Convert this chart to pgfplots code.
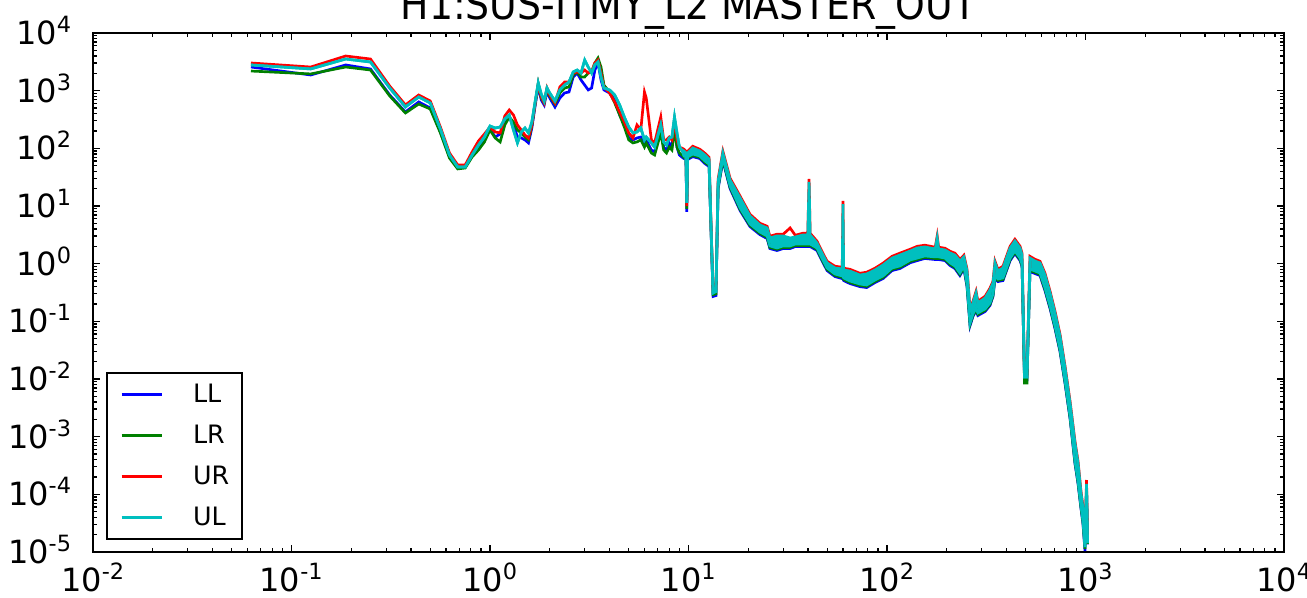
\documentclass[border=0pt]{standalone}
\usepackage{graphicx}
\usepackage{fontspec}
\setmainfont{DejaVu Sans}
\usepackage{pgfplots}
\usepackage{pgfplotstable}
\pgfplotsset{compat=1.18}
\usepgfplotslibrary{fillbetween}
\definecolor{LLc}{rgb}{0,0,1}
\definecolor{LRc}{rgb}{0,0.5,0}
\definecolor{URc}{rgb}{1,0,0}
\definecolor{ULc}{rgb}{0,0.75,0.75}

% spectra; above ~9.5 Hz the traces are noisy bands:
% UR = top edge, LL/LR = bottom edges, UL = band (ULlo..ULhi)
\pgfplotstableread{
f LL LR UR ULlo ULhi
0.0625 2570 2190 3020 2790 2790
0.125 1870 1950 2570 2380 2380
0.1875 2790 2570 3990 3540 3540
0.25 2380 2280 3540 3140 3140
0.3125 841 809 1200 1110 1110
0.375 427 410 565 521 521
0.4375 637 587 841 776 776
0.5 501 481 662 611 611
0.5625 192 185 234 216 216
0.625 70.8 67.9 83.0 76.6 76.6
0.6875 45.6 43.9 51.4 47.4 47.4
0.75 47.4 45.6 51.4 47.4 47.4
0.8125 73.6 70.8 86.5 76.6 76.6
0.875 101 93.5 134 114 114
0.9375 145 129 177 157 157
1.0 216 208 234 244 244
1.0625 157 151 192 225 225
1.125 177 129 185 234 234
1.1875 298 254 364 323 323
1.25 349 349 462 378 378
1.3125 254 286 378 208 208
1.375 157 208 254 124 124
1.4375 151 185 208 192 192
1.5 140 157 170 225 225
1.5625 124 140 151 185 185
1.625 225 244 254 286 286
1.6875 542 587 587 637 637
1.75 1200 1310 1310 1360 1360
1.8125 689 746 776 875 875
1.875 565 611 611 662 662
1.9375 986 1070 1110 1110 1110
2.0 746 809 841 912 912
2.125 521 587 611 662 662
2.25 746 912 1160 1030 1030
2.375 912 1110 1410 1250 1250
2.5 948 1160 1410 1410 1410
2.625 1730 1870 2020 2110 2110
2.75 2020 2110 2110 2280 2280
2.875 1530 1730 2020 2020 2020
3.0 1250 1730 2280 3400 3400
3.125 1030 2020 2020 2570 2570
3.25 1110 2110 2110 2020 2020
3.375 2280 3020 3020 2790 2790
3.5 3020 3680 3400 3140 3140
3.625 1530 2570 2020 1730 1730
3.75 1030 1250 1160 1110 1110
4.0 912 948 912 1030 1030
4.25 689 611 637 841 841
4.5 378 378 427 565 565
4.75 275 234 286 349 349
5.0 151 140 185 234 234
5.25 140 124 151 185 185
5.5 151 129 254 192 192
5.75 157 140 208 225 225
6.0 124 105 948 140 140
6.125 140 124 746 157 157
6.5 93.5 83.0 140 124 124
6.75 86.5 76.6 124 105 105
7.25 208 185 349 254 254
7.5 105 93.5 140 129 129
7.75 93.5 83.0 140 114 114
8.0 124 105 157 151 151
8.25 105 93.5 140 157 157
8.5 275 208 310 349 349
8.75 105 105 140 185 185
9.0 76.6 83.0 105 105 105
9.25 70.8 76.6 101 93.5 93.5
9.49 66.4 69.5 96.4 73.6 90
9.71 66.4 69.5 88.9 73.6 83
9.8 7.9 8.9 10.0 11.3 11.3
9.9 63.8 66.8 88.9 70.8 83
10.5 71.9 75.3 108.6 79.8 101.4
11.4 66.4 69.5 96.4 73.6 90
12.1 54.4 56.9 82.1 60.3 76.7
12.7 48.2 50.5 70.0 53.5 65.3
13.0 3.4 3.6 4.1 3.84 3.84
13.3 0.27 0.29 0.34 0.31 0.31
13.75 0.28 0.30 0.36 0.33 0.33
14.1 20.0 21.0 29.1 22.2 27.1
14.9 61.3 64.2 88.9 68.0 83.0
16.2 20.0 21.0 30.3 22.2 28.2
18.2 8.33 8.72 14.8 9.24 13.8
20.4 4.40 4.60 7.19 4.88 6.71
22.9 3.19 3.34 5.02 3.54 4.69
24.9 2.72 2.85 4.45 3.02 4.16
25.7 1.83 1.91 2.99 2.03 2.79
27.9 1.69 1.77 3.24 1.87 3.02
30.0 1.83 1.91 3.24 2.03 3.02
32.5 1.83 1.91 4.16 2.03 2.79
34.5 1.98 2.07 3.11 2.19 2.90
37.7 1.98 2.07 3.37 2.19 3.14
39.9 1.98 2.07 3.37 2.19 3.14
40.5 1.98 2.07 29.4 2.19 26.1
41.0 1.98 2.07 3.37 2.19 3.14
44.4 1.69 1.77 2.45 1.87 2.28
47.0 1.13 1.18 1.64 1.25 1.53
49.9 0.759 0.795 1.10 0.842 1.03
54.7 0.597 0.625 0.902 0.662 0.842
59.5 0.551 0.577 0.866 0.612 0.809
60.0 0.551 0.577 12.2 0.612 10.8
60.5 0.509 0.533 0.833 0.565 0.777
65 0.452 0.473 0.800 0.501 0.746
73 0.400 0.419 0.682 0.444 0.636
79 0.385 0.403 0.710 0.427 0.662
87 0.470 0.492 0.833 0.521 0.777
95.5 0.551 0.577 1.02 0.612 0.949
106 0.759 0.795 1.34 0.842 1.25
116 0.822 0.861 1.52 0.912 1.41
131 1.04 1.09 1.78 1.16 1.66
142 1.13 1.18 2.00 1.25 1.87
155 1.23 1.28 2.09 1.36 1.95
175 1.18 1.23 1.93 1.31 1.80
179 1.18 1.23 3.02 1.31 2.79
182 1.18 1.23 1.93 1.31 1.80
196 1.13 1.18 1.85 1.25 1.73
208 0.927 0.970 1.64 1.03 1.53
220 0.822 0.861 1.52 0.912 1.41
233 0.622 0.651 1.19 0.689 1.11
244 0.822 0.861 1.40 0.912 1.31
253 0.400 0.419 0.800 0.444 0.746
262 0.0844 0.0884 0.169 0.0936 0.157
271 0.121 0.127 0.223 0.134 0.208
281 0.154 0.161 0.332 0.170 0.310
287 0.126 0.132 0.223 0.140 0.208
312 0.148 0.155 0.272 0.164 0.254
330 0.188 0.196 0.375 0.208 0.350
342 0.269 0.281 0.495 0.298 0.462
350 0.551 0.577 1.10 0.612 1.03
362 0.489 0.512 0.800 0.542 0.746
384 0.509 0.533 0.902 0.565 0.842
417 1.13 1.18 2.00 1.25 1.87
441 1.50 1.57 2.65 1.66 2.47
468 1.13 1.18 2.00 1.25 1.87
479 0.890 0.932 1.52 0.987 1.41
493 0.00962 0.00853 0.01174 0.01084 0.01084
507 0.00962 0.00853 0.01174 0.01084 0.01084
525 0.729 0.763 1.34 0.809 1.25
557 0.673 0.705 1.19 0.746 1.11
590 0.622 0.651 1.10 0.689 1.03
625 0.341 0.358 0.682 0.379 0.636
663 0.166 0.174 0.332 0.185 0.310
702 0.0749 0.0784 0.150 0.0831 0.140
744 0.0299 0.0313 0.0597 0.0331 0.0557
789 0.00833 0.00872 0.0166 0.00924 0.0155
836 0.00206 0.00216 0.00411 0.00228 0.00384
885 3.42e-4 3.58e-4 8.33e-4 3.79e-4 7.77e-4
917 1.54e-4 1.61e-4 3.75e-4 1.70e-4 3.50e-4
949 5.66e-5 5.93e-5 1.13e-4 6.28e-5 1.06e-4
971 3.11e-5 3.26e-5 6.2e-5 3.45e-5 5.80e-5
994 1.04e-5 1.13e-5 1.32e-5 1.22e-5 1.22e-5
1012 1.25e-4 1.3e-4 1.77e-4 1.3e-4 1.51e-4
1024 1.35e-5 1.38e-5 1.5e-5 1.43e-5 1.43e-5
}\spec

\begin{document}
\begin{tikzpicture}
\begin{axis}[
  at={(0,0)}, anchor=south west,
  scale only axis, width=893.25pt, height=389.25pt,
  xmode=log, ymode=log,
  xmin=1e-2, xmax=1e4, ymin=1e-5, ymax=1e4,
  xtick={1e-2,1e-1,1,10,100,1000,10000},
  xticklabels={10\textsuperscript{-2},10\textsuperscript{-1},10\textsuperscript{0},10\textsuperscript{1},10\textsuperscript{2},10\textsuperscript{3},10\textsuperscript{4}},
  minor xtick={0.02,0.03,0.04,0.05,0.06,0.07,0.08,0.09,0.2,0.3,0.4,0.5,0.6,0.7,0.8,0.9,2,3,4,5,6,7,8,9,20,30,40,50,60,70,80,90,200,300,400,500,600,700,800,900,2000,3000,4000,5000,6000,7000,8000,9000},
  ytick={1e-5,1e-4,1e-3,1e-2,1e-1,1,10,100,1000,10000},
  yticklabels={10\textsuperscript{-5},10\textsuperscript{-4},10\textsuperscript{-3},10\textsuperscript{-2},10\textsuperscript{-1},10\textsuperscript{0},10\textsuperscript{1},10\textsuperscript{2},10\textsuperscript{3},10\textsuperscript{4}},
  minor ytick={2e-5,3e-5,4e-5,5e-5,6e-5,7e-5,8e-5,9e-5,2e-4,3e-4,4e-4,5e-4,6e-4,7e-4,8e-4,9e-4,2e-3,3e-3,4e-3,5e-3,6e-3,7e-3,8e-3,9e-3,0.02,0.03,0.04,0.05,0.06,0.07,0.08,0.09,0.2,0.3,0.4,0.5,0.6,0.7,0.8,0.9,2,3,4,5,6,7,8,9,20,30,40,50,60,70,80,90,200,300,400,500,600,700,800,900,2000,3000,4000,5000,6000,7000,8000,9000},
  axis line style={line width=1.8pt},
  tick align=inside,
  major tick length=5.5pt, minor tick length=3pt,
  every tick/.style={black, line width=1pt},
  xticklabel style={font=\fontsize{24}{28}\selectfont, anchor=base, inner sep=0pt, yshift=-29.5pt},
  yticklabel style={font=\fontsize{24}{28}\selectfont, anchor=base east, inner sep=0pt, xshift=-15.75pt, yshift=-8.7pt},
  title={\scalebox{0.9}[1]{H1:SUS-ITMY\_L2 MASTER\_OUT}},
  title style={at={(0.5,1)}, anchor=base, yshift=3.75pt, inner sep=0pt, font=\fontsize{31.5}{36}\selectfont},
  legend cell align=left,
  legend image code/.code={\draw[#1, line width=2pt] (0pt,0pt) -- (30pt,0pt);},
  legend style={at={(0,0)}, anchor=south west, xshift=9.75pt, yshift=9pt,
    draw=black, line width=1.5pt, inner xsep=10pt, inner ysep=8.5pt,
    row sep=15.4pt, column sep=22.5pt,
    font=\fontsize{19}{22}\selectfont,
    nodes={inner sep=0pt}},
  every axis plot/.append style={line width=2pt},
]
\addplot[LLc] table[x=f, y=LL] {\spec};
\addlegendentry{LL}
\addplot[LRc] table[x=f, y=LR] {\spec};
\addlegendentry{LR}
\addplot[URc] table[x=f, y=UR] {\spec};
\addlegendentry{UR}
\addplot[ULc, name path=ullo, forget plot] table[x=f, y=ULlo] {\spec};
\addplot[ULc, name path=ulhi] table[x=f, y=ULhi] {\spec};
\addlegendentry{UL}
\addplot[fill=ULc, draw=none, forget plot] fill between[of=ulhi and ullo];
\end{axis}
\pgfresetboundingbox
\useasboundingbox (-69.75pt,-34.5pt) rectangle (910.5pt,414pt);
\end{tikzpicture}
\end{document}
